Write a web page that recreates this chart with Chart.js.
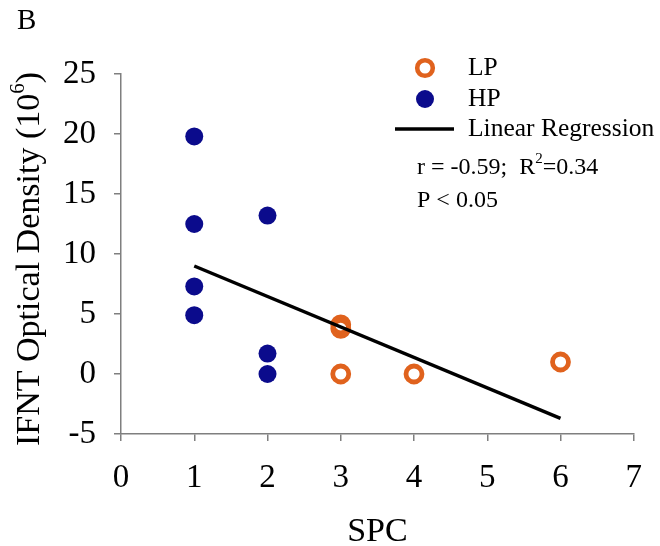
<!DOCTYPE html>
<html>
<head>
<meta charset="utf-8">
<script src="https://cdn.jsdelivr.net/npm/chart.js@4/dist/chart.umd.min.js"></script>
<style>
  html, body { margin: 0; padding: 0; background: #fff; }
  #wrap { width: 660px; height: 546px; position: relative; }
</style>
</head>
<body>
<div id="wrap"><canvas id="c" width="660" height="546"></canvas></div>
<script>
// SPC score vs IFNT optical density, by group
const spcHP  = [1, 1, 1, 1, 2, 2, 2];
const ifntHP = [19.8, 12.5, 7.3, 4.9, 13.2, 1.7, 0.0];

const spcLP  = [3, 3, 3, 4, 6];
const ifntLP = [4.1, 3.8, 0.0, 0.0, 1.0];

// fitted regression line end points
const fitSPC  = [1, 6];
const fitIFNT = [9.0, -3.7];

const xTickValues = [0, 1, 2, 3, 4, 5, 6, 7];
const yTickValues = [-5, 0, 5, 10, 15, 20, 25];

const panelLetter = 'B';
const xTitle = 'SPC';
const yTitleMain = 'IFNT Optical Density (10';
const yTitleSup = '6';
const yTitleEnd = ')';
const seriesNames = ['LP', 'HP', 'Linear Regression'];
const statLine1 = ['r = -0.59;  R', '2', '=0.34'];
const statLine2 = 'P < 0.05';

const SERIF = "'Liberation Serif', 'Times New Roman', Times, serif";
const NAVY = '#0b0b8c';
const ORANGE = '#e0621d';
const AXIS = '#7f7f7f';

const toPoints = (xs, ys) => xs.map((x, i) => ({ x, y: ys[i] }));

Chart.defaults.font.family = SERIF;
Chart.defaults.color = '#000';

const overlay = {
  id: 'overlay',
  afterDraw(chart) {
    const ctx = chart.ctx;
    ctx.save();
    ctx.fillStyle = '#000';
    ctx.textBaseline = 'middle';
    ctx.textAlign = 'left';

    // panel letter
    ctx.font = '29px ' + SERIF;
    ctx.fillText(panelLetter, 17, 21);

    // legend: markers
    const mx = 425;
    ctx.beginPath();
    ctx.arc(mx, 68, 7.8, 0, Math.PI * 2);
    ctx.lineWidth = 4.6;
    ctx.strokeStyle = ORANGE;
    ctx.stroke();

    ctx.beginPath();
    ctx.arc(mx, 99, 9, 0, Math.PI * 2);
    ctx.fillStyle = NAVY;
    ctx.fill();

    ctx.beginPath();
    ctx.moveTo(395, 129);
    ctx.lineTo(454, 129);
    ctx.lineWidth = 3.5;
    ctx.strokeStyle = '#000';
    ctx.stroke();

    // legend: labels
    ctx.fillStyle = '#000';
    ctx.font = '25.5px ' + SERIF;
    ctx.fillText(seriesNames[0], 468, 68);
    ctx.fillText(seriesNames[1], 468, 99);
    ctx.fillText(seriesNames[2], 468, 129);

    // statistics
    ctx.font = '24px ' + SERIF;
    let x = 417;
    ctx.fillText(statLine1[0], x, 168);
    x += ctx.measureText(statLine1[0]).width;
    ctx.font = '15px ' + SERIF;
    ctx.fillText(statLine1[1], x, 159);
    x += ctx.measureText(statLine1[1]).width;
    ctx.font = '24px ' + SERIF;
    ctx.fillText(statLine1[2], x, 168);
    ctx.fillText(statLine2, 417, 201);

    // y axis title with superscript
    ctx.translate(30, 259);
    ctx.rotate(-Math.PI / 2);
    const big = '34px ' + SERIF, small = '21px ' + SERIF;
    ctx.font = big;
    const w1 = ctx.measureText(yTitleMain).width;
    const w3 = ctx.measureText(yTitleEnd).width;
    ctx.font = small;
    const w2 = ctx.measureText(yTitleSup).width;
    let tx = -(w1 + w2 + w3) / 2;
    ctx.font = big;
    ctx.fillText(yTitleMain, tx, 0);
    tx += w1;
    ctx.font = small;
    ctx.fillText(yTitleSup, tx, -12);
    tx += w2;
    ctx.font = big;
    ctx.fillText(yTitleEnd, tx, 0);

    ctx.restore();
  }
};

new Chart(document.getElementById('c'), {
  type: 'scatter',
  data: {
    datasets: [
      {
        label: seriesNames[2],
        type: 'line',
        data: toPoints(fitSPC, fitIFNT),
        borderColor: '#000',
        borderWidth: 3.5,
        pointRadius: 0,
        fill: false,
        order: 0
      },
      {
        label: seriesNames[0],
        data: toPoints(spcLP, ifntLP),
        pointRadius: 8,
        pointBorderWidth: 4.8,
        borderWidth: 4.8,
        borderColor: ORANGE,
        backgroundColor: 'rgba(255,255,255,0)',
        order: 1
      },
      {
        label: seriesNames[1],
        data: toPoints(spcHP, ifntHP),
        pointRadius: 9,
        borderWidth: 0,
        borderColor: NAVY,
        backgroundColor: NAVY,
        order: 2
      }
    ]
  },
  options: {
    responsive: false,
    animation: false,
    layout: { padding: { top: 74, right: 26, bottom: 0, left: 0 } },
    plugins: {
      legend: { display: false },
      tooltip: { enabled: false }
    },
    scales: {
      x: {
        type: 'linear',
        min: 0,
        max: 7,
        afterBuildTicks: s => { s.ticks = xTickValues.map(v => ({ value: v })); },
        afterFit: s => { s.height = 112; },
        ticks: { font: { size: 33 }, color: '#000', padding: 18, maxRotation: 0 },
        grid: { drawOnChartArea: false, drawTicks: true, tickLength: 7, color: AXIS, lineWidth: 1.5 },
        border: { display: true, color: AXIS, width: 1.5 },
        title: { display: true, text: xTitle, font: { size: 34 }, color: '#000', padding: { top: 0, bottom: -6 } }
      },
      y: {
        type: 'linear',
        min: -5,
        max: 25,
        afterBuildTicks: s => { s.ticks = yTickValues.map(v => ({ value: v })); },
        afterFit: s => { s.width = 121; },
        ticks: { font: { size: 33 }, color: '#000', padding: 18 },
        grid: { drawOnChartArea: false, drawTicks: true, tickLength: 7, color: AXIS, lineWidth: 1.5 },
        border: { display: true, color: AXIS, width: 1.5 }
      }
    }
  },
  plugins: [overlay]
});
</script>
</body>
</html>
